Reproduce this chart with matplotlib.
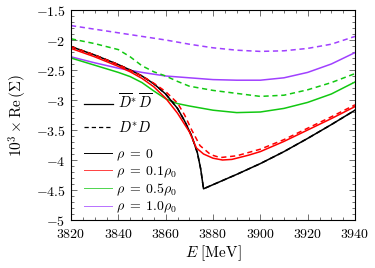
import numpy as np
import matplotlib
matplotlib.use('Agg')
from matplotlib import pyplot as plt
from matplotlib.lines import Line2D
from matplotlib.ticker import MultipleLocator, FuncFormatter

plt.rcParams['mathtext.fontset'] = 'cm'
plt.rcParams['font.family'] = 'serif'
plt.rcParams['font.size'] = 10

# --- data (E in MeV, 10^3 x Re(Sigma)) ---
E_black = [3820, 3830, 3840, 3845, 3850, 3855, 3860, 3865, 3868, 3871, 3873.4, 3874.8, 3876,
           3890, 3900, 3910, 3920, 3930, 3940]
black = [-2.11, -2.25, -2.41, -2.50, -2.60, -2.73, -2.90, -3.14, -3.35, -3.60, -3.88, -4.15, -4.48,
         -4.24, -4.06, -3.86, -3.64, -3.41, -3.17]

E_red = [3820, 3830, 3840, 3845, 3850, 3855, 3860, 3865, 3870, 3873, 3876, 3880, 3884, 3888,
         3895, 3900, 3910, 3920, 3930, 3940]
red = [-2.14, -2.28, -2.44, -2.53, -2.64, -2.78, -2.97, -3.22, -3.53, -3.80, -3.90, -3.97, -4.00, -3.99,
       -3.92, -3.86, -3.69, -3.50, -3.31, -3.11]

E_red_d = [3820, 3830, 3840, 3850, 3855, 3860, 3865, 3868, 3871, 3874.5, 3879, 3883, 3890,
           3900, 3910, 3920, 3930, 3940]
red_d = [-2.11, -2.25, -2.41, -2.60, -2.72, -2.86, -3.05, -3.25, -3.50, -3.76, -3.91, -3.96, -3.93,
         -3.82, -3.66, -3.47, -3.28, -3.08]

E_green = [3820, 3830, 3840, 3845, 3850, 3855, 3860, 3865, 3870, 3880, 3890, 3900, 3910, 3920, 3930, 3940]
green = [-2.30, -2.42, -2.54, -2.61, -2.71, -2.85, -2.98, -3.06, -3.10, -3.17, -3.21, -3.20, -3.14,
         -3.04, -2.90, -2.70]

E_green_d = [3820, 3830, 3840, 3850, 3860, 3866, 3870, 3875, 3880, 3885, 3890, 3900, 3910, 3920, 3930, 3940]
green_d = [-1.98, -2.06, -2.16, -2.28, -2.43, -2.53, -2.60, -2.69, -2.77, -2.84, -2.89, -2.94, -2.92,
           -2.83, -2.71, -2.56]

E_purple = [3820, 3830, 3840, 3850, 3860, 3870, 3880, 3890, 3900, 3910, 3920, 3930, 3940]
purple = [-2.28, -2.38, -2.47, -2.54, -2.60, -2.63, -2.66, -2.67, -2.67, -2.63, -2.54, -2.40, -2.21]
purple_d = [-1.76, -1.82, -1.88, -1.94, -2.00, -2.07, -2.13, -2.17, -2.19, -2.18, -2.14, -2.07, -1.94]

rho_labels = [r'$\rho\;=\;0$', r'$\rho\;=\;0.1\rho_0$', r'$\rho\;=\;0.5\rho_0$', r'$\rho\;=\;1.0\rho_0$']
colors = ['black', '#ff0000', '#12c812', '#a040ff']

dash = (0, (3.4, 2.4))
lw = 1.1
fs = 10

fig = plt.figure(figsize=(3.75, 2.68), dpi=100)
ax = fig.add_axes([71/375, 48/268, 284/375, 210/268])

ax.plot(E_purple, purple_d, color=colors[3], lw=lw, ls=dash)
ax.plot(E_purple, purple, color=colors[3], lw=lw)
ax.plot(E_green, green_d, color=colors[2], lw=lw, ls=dash)
ax.plot(E_green, green, color=colors[2], lw=lw)
ax.plot(E_black, black, color=colors[0], lw=lw, ls=dash)
ax.plot(E_black, black, color=colors[0], lw=lw)
ax.plot(E_red_d, red_d, color=colors[1], lw=lw, ls=dash)
ax.plot(E_red, red, color=colors[1], lw=lw)

ax.set_xlim(3820, 3940)
ax.set_ylim(-5, -1.5)
ax.xaxis.set_major_locator(MultipleLocator(20))
ax.xaxis.set_minor_locator(MultipleLocator(5))
ax.yaxis.set_major_locator(MultipleLocator(0.5))
ax.yaxis.set_minor_locator(MultipleLocator(0.1))
ax.xaxis.set_major_formatter(FuncFormatter(lambda v, p: r'$%d$' % v))
ax.yaxis.set_major_formatter(FuncFormatter(lambda v, p: r'$%g$' % v))
ax.tick_params(which='both', direction='in', top=True, right=True, color='0.35', width=0.6)
ax.tick_params(which='major', length=4, labelsize=fs)
ax.tick_params(axis='y', which='major', pad=4)
ax.tick_params(axis='x', which='major', pad=5)
ax.tick_params(which='minor', length=2)
for s in ax.spines.values():
    s.set_linewidth(0.8)

ax.set_xlabel(r'$E\ [\mathrm{MeV}]$', fontsize=11, labelpad=2)
ax.set_ylabel(r'$10^3 \times \mathrm{Re}\,(\Sigma)$', fontsize=11, labelpad=5)

h1 = [Line2D([], [], color='black', lw=0.9),
      Line2D([], [], color='black', lw=0.9, ls=dash)]
leg1 = ax.legend(h1, [r'$\overline{D}^{*}\,\overline{D}$', r'$D^{*}D$'], loc='upper left',
                 bbox_to_anchor=(0.045, 0.605), frameon=False, borderpad=0, borderaxespad=0,
                 handlelength=2.0, handletextpad=0.35, labelspacing=0.55, fontsize=10.5)
ax.add_artist(leg1)

h2 = [Line2D([], [], color=c, lw=0.7, alpha=0.75 if c != 'black' else 1) for c in colors]
ax.legend(h2, rho_labels, loc='upper left', bbox_to_anchor=(0.045, 0.348), frameon=False,
          borderpad=0, borderaxespad=0, handlelength=2.0, handletextpad=0.35,
          labelspacing=0.12, fontsize=10)

fig.savefig('out.png', dpi=100)
